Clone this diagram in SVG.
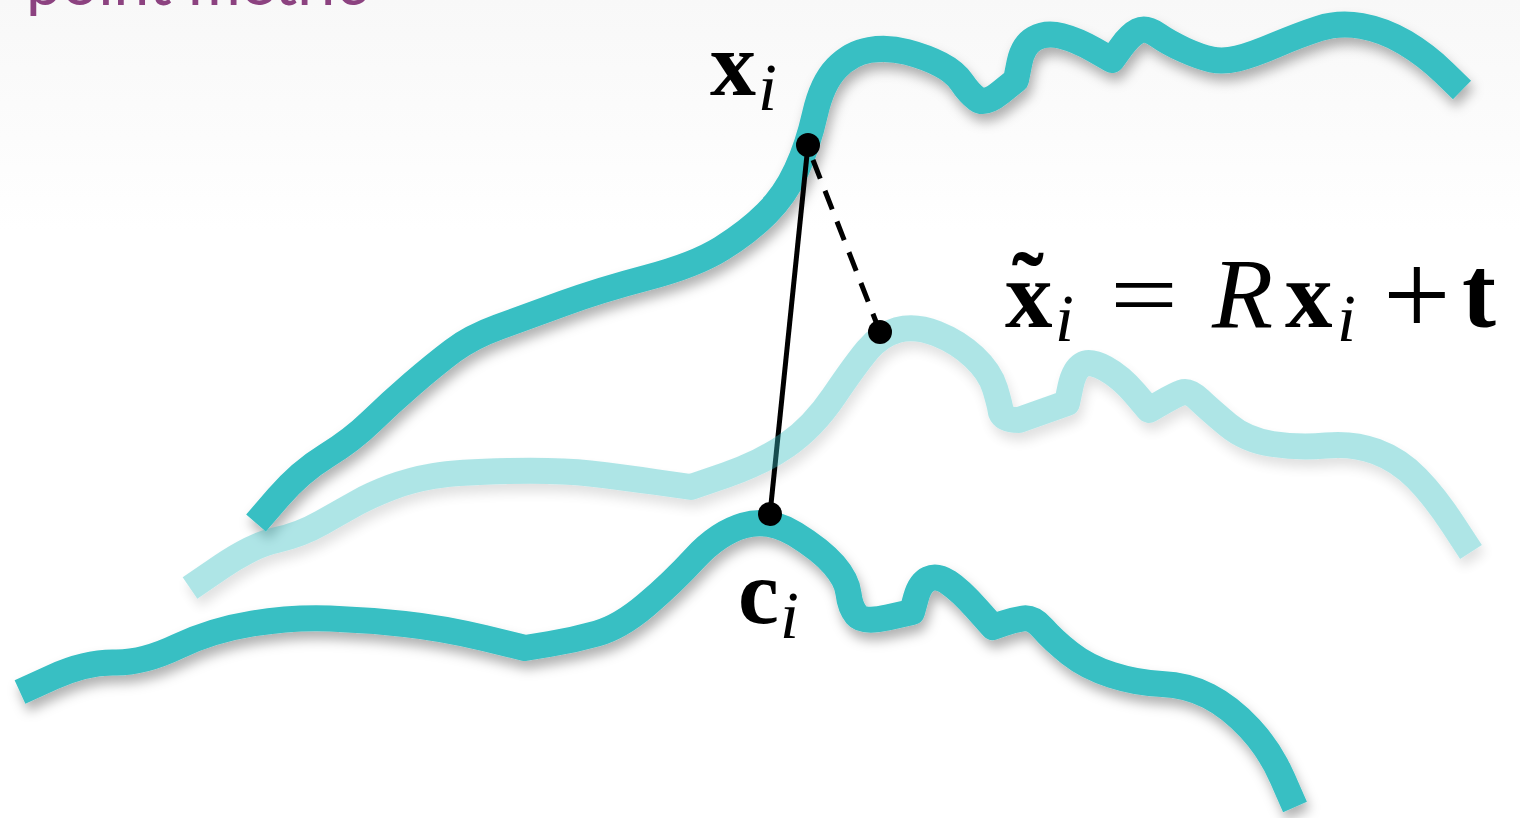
<svg xmlns="http://www.w3.org/2000/svg" width="1520" height="818" viewBox="0 0 1520 818">
<defs>
<linearGradient id="bg" x1="0" y1="0" x2="0" y2="1">
<stop offset="0" stop-color="#f8f8f8"/>
<stop offset="0.6" stop-color="#fcfcfc"/>
<stop offset="1" stop-color="#ffffff"/>
</linearGradient>
<filter id="shadow" x="-10%" y="-10%" width="120%" height="130%">
<feDropShadow dx="3" dy="8" stdDeviation="6" flood-color="#000" flood-opacity="0.3"/>
</filter>
</defs>
<style>
.curve{fill:none;stroke:#37bfc3;stroke-width:26;stroke-linecap:butt;stroke-linejoin:round}
.ghost{opacity:0.4}
.dot{fill:#000}
.link{stroke:#000;stroke-width:5;fill:none}
.dash{stroke-dasharray:20 13}
.title{fill:#8c4280}
.m{font-family:"Liberation Serif","Times New Roman",serif;fill:#000}
</style>
<rect x="0" y="0" width="1520" height="818" fill="#fff"/>
<rect x="0" y="0" width="1520" height="230" fill="url(#bg)"/>
<text class="title" x="26" y="5" font-size="64" font-family="Lato, 'Open Sans', sans-serif">point metric</text>

<g id="curve-top" filter="url(#shadow)">
<path class="curve" d="M256,523 L278,497.5 Q300,472 326,456 Q352,440 371,421.5 Q390,403 412,384 Q434,365 452.5,351 Q471,337 498.5,327 Q526,317 563,303.5 Q600,290 647.5,277.5 Q695,265 721.5,248.5 Q748,232 766.5,213.5 Q785,195 796.5,170 Q808,145 815,114 Q822,83 836.5,68 Q851,53 869.5,50 Q888,47 907,52 Q926,57 940.5,64.5 Q955,72 962,82.5 Q969,93 977,99 Q985,105 1000.5,92.5 L1016,80 L1019.5,62.5 Q1023,45 1034.5,38.5 Q1046,32 1061.5,36 Q1077,40 1094.5,50 L1112,60 L1121,47.5 Q1130,35 1138,31 Q1146,27 1157.5,35 Q1169,43 1184.5,50 Q1200,57 1211.5,59.5 Q1223,62 1237.5,58.5 Q1252,55 1275.5,45 Q1299,35 1319,28.5 Q1339,22 1361.5,26 Q1384,30 1405,42.5 Q1426,55 1444,72.5 L1462,90"/>
</g>

<g id="curve-bottom" filter="url(#shadow)">
<path class="curve" d="M20,692 L53,677 Q86,662 114.5,662.5 Q143,663 177.5,646.5 Q212,630 252.5,623.5 Q293,617 330,618.5 Q367,620 404.5,624 Q442,628 484,638 L525,648 L549.5,644 Q574,640 597,633.5 Q620,627 646,605 Q672,583 695,558 Q718,533 743.5,525.5 Q769,518 795,534 Q821,550 834,565 Q847,580 848.5,593.5 Q850,607 856.5,615 Q863,623 887.5,617.5 L912,612 L916,597.5 Q920,583 928.5,579 Q937,575 948.5,582.5 Q960,590 976.5,608.5 L993,627 L1003,623.5 Q1013,620 1023,618.5 Q1033,617 1043,628.5 Q1053,640 1070,653.5 Q1087,667 1112,675 Q1137,683 1162,684 Q1187,685 1208.5,696 Q1230,707 1250,728.5 Q1270,750 1282.5,778.5 L1295,807"/>
</g>

<g id="connectors">
<line class="link" x1="808" y1="145" x2="770" y2="514"/>
<line class="link dash" x1="813" y1="160" x2="880" y2="332"/>
</g>

<g id="curve-transformed" class="ghost" filter="url(#shadow)">
<path class="curve" d="M190,588 L221.5,566.5 Q253,545 276.5,540 Q300,535 322,522.5 Q344,510 357.5,502.5 Q371,495 390.5,487.5 Q410,480 433.5,476 Q457,472 508.5,471 Q560,470 590,473.5 Q620,477 655.5,482 L691,487 L726,475 Q761,463 787,445 Q813,427 834,396 Q855,365 867.5,350 Q880,335 897.5,330 Q915,325 936.5,333.5 Q958,342 974,357 Q990,372 995,388.5 Q1000,405 1001,412.5 Q1004,420 1019,420 L1067,403 L1070.5,386.5 Q1074,370 1082,365 Q1090,360 1105.5,368.5 Q1121,377 1135,393.5 L1149,410 L1162,402.5 Q1175,395 1182,392.5 Q1189,390 1199.5,400 Q1210,410 1228,425 Q1246,440 1272.5,444 Q1299,448 1326,445.5 Q1353,443 1376,451.5 Q1399,460 1417,478.5 Q1435,497 1453,524.5 L1471,552"/>
</g>

<g id="point-x">
<circle class="dot" cx="808" cy="145" r="12"/>
</g>
<g id="point-c">
<circle class="dot" cx="770" cy="514" r="12"/>
</g>
<g id="point-xt">
<circle class="dot" cx="880" cy="332" r="12"/>
</g>

<g id="label-x" class="m">
<text x="710" y="95" font-size="92" font-weight="bold">x</text>
<text x="758" y="110" font-size="68" font-style="italic">i</text>
</g>
<g id="label-c" class="m">
<text x="738" y="623" font-size="92" font-weight="bold">c</text>
<text x="780" y="638" font-size="68" font-style="italic">i</text>
</g>
<g id="label-eq" class="m">
<text x="1005" y="327" font-size="95" font-weight="bold">x</text>
<text x="1012" y="318" font-size="95" font-weight="bold">˜</text>
<text x="1055" y="341" font-size="68" font-style="italic">i</text>
<text x="1110" y="327" font-size="95" textLength="68" lengthAdjust="spacingAndGlyphs">=</text>
<text x="1212" y="327" font-size="100" font-style="italic">R</text>
<text x="1285" y="327" font-size="95" font-weight="bold">x</text>
<text x="1337" y="341" font-size="68" font-style="italic">i</text>
<text x="1383" y="335" font-size="120">+</text>
<text x="1462" y="327" font-size="102" font-weight="bold">t</text>
</g>
</svg>
